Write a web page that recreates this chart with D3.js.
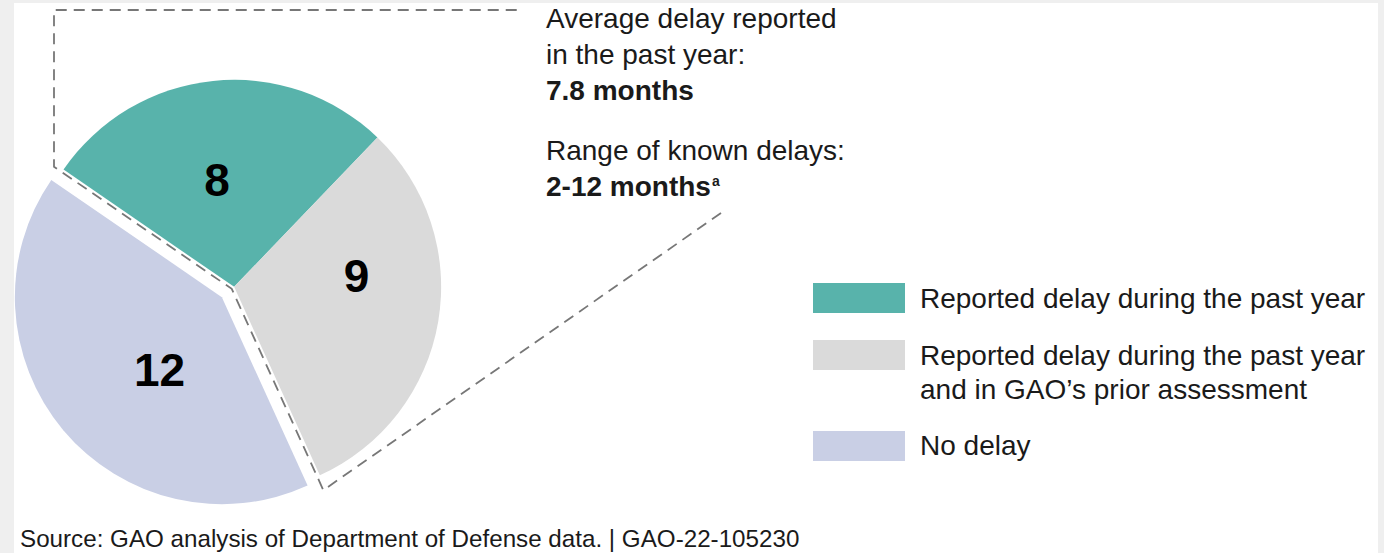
<!DOCTYPE html>
<html>
<head>
<meta charset="utf-8">
<script src="https://cdn.jsdelivr.net/npm/d3@7/dist/d3.min.js"></script>
<style>
  html, body { margin: 0; padding: 0; background: #efefef; }
  svg { display: block; }
  text { font-family: "Liberation Sans", Arial, Helvetica, sans-serif; fill: #1a1a1a; }
</style>
</head>
<body>
<svg id="chart" width="1384" height="553"></svg>
<script>
// ---------------- data ----------------
const categories = [
  "Reported delay during the past year",
  "Reported delay during the past year and in GAO’s prior assessment",
  "No delay"
];
const counts = [8, 9, 12];
const groupOf = ["delayed", "delayed", "none"];
const legendLines = [
  ["Reported delay during the past year"],
  ["Reported delay during the past year", "and in GAO’s prior assessment"],
  ["No delay"]
];
const calloutLines = [
  { text: "Average delay reported", bold: false },
  { text: "in the past year:", bold: false },
  { text: "7.8 months", bold: true },
  { text: "Range of known delays:", bold: false },
  { text: "2-12 months", bold: true, sup: "a" }
];
const sourceText = "Source: GAO analysis of Department of Defense data. | GAO-22-105230";

// ---------------- layout / style ----------------
const colors = ["#58b3ab", "#dadada", "#c9cfe5"];
const W = 1384, H = 553;
const center = { x: 228, y: 292 };
const radius = 207;
const explode = 8;
const startDeg = -55.5;
const labelRadius = 110;
const labelNudge = [[-6, 2], [14, -30], [22, 2]];
const calloutX = 546, calloutBaselines = [28, 64, 100, 160, 196];
const legend = { swatchX: 813, swatchW: 92, swatchH: 30, textX: 920,
                 swatchTop: [283, 340, 431], firstBaseline: [308, 365, 455], lineGap: 34 };

const svg = d3.select("#chart");
svg.append("rect").attr("x", 0).attr("y", 0).attr("width", W).attr("height", H).attr("fill", "#efefef");
svg.append("rect").attr("x", 14).attr("y", 3).attr("width", 1364).attr("height", H - 3).attr("fill", "#ffffff");

const toRad = d => d * Math.PI / 180;
const pie = d3.pie().sort(null).value(d => d)
  .startAngle(toRad(startDeg)).endAngle(toRad(startDeg) + 2 * Math.PI);
const arcs = pie(counts);
const arc = d3.arc().innerRadius(0).outerRadius(radius);
const labelArc = d3.arc().innerRadius(labelRadius).outerRadius(labelRadius);

// group extents for exploding
const groupExtent = {};
arcs.forEach((a, i) => {
  const g = groupOf[i];
  if (!groupExtent[g]) groupExtent[g] = { s: a.startAngle, e: a.endAngle };
  else groupExtent[g].e = a.endAngle;
});
const groupCenter = {};
Object.keys(groupExtent).forEach(g => {
  const m = (groupExtent[g].s + groupExtent[g].e) / 2;
  groupCenter[g] = { x: center.x + explode * Math.sin(m), y: center.y - explode * Math.cos(m) };
});

const pieG = svg.append("g");
arcs.forEach((a, i) => {
  const c = groupCenter[groupOf[i]];
  pieG.append("path")
    .attr("transform", `translate(${c.x},${c.y})`)
    .attr("d", arc(a))
    .attr("fill", colors[i]);
});

// dashed callout outline around delayed group
const dc = groupCenter["delayed"];
const a0 = groupExtent["delayed"].s, a2 = groupExtent["delayed"].e;
const off = 3;
const pt = (theta, rho, sign) => {
  const nx = sign * Math.cos(theta), ny = sign * Math.sin(theta);
  return [dc.x + rho * Math.sin(theta) + off * nx, dc.y - rho * Math.cos(theta) + off * ny];
};
const outsideMid = (a2 + a0 + 2 * Math.PI) / 2;
const outsideSpan = 2 * Math.PI - (a2 - a0);
const apexDist = off / Math.sin(outsideSpan / 2);
const apex = [dc.x + apexDist * Math.sin(outsideMid), dc.y - apexDist * Math.cos(outsideMid)];
const boxLeftX = 54, boxTopY = 10, boxTopEndX = 523;
const rhoLeft = (boxLeftX - dc.x - (-1) * Math.cos(a0) * off) / Math.sin(a0);
const leftJoin = pt(a0, rhoLeft, -1);
const rightCorner = pt(a2, radius + 15, 1);
const rightEnd = [721, 213];
const outline = [rightEnd, rightCorner, apex, leftJoin, [boxLeftX, leftJoin[1] - 4], [boxLeftX, boxTopY], [boxTopEndX, boxTopY]];
svg.append("path")
  .attr("d", d3.line()(outline))
  .attr("fill", "none")
  .attr("stroke", "#777777")
  .attr("stroke-width", 1.8)
  .attr("stroke-dasharray", "11,7");

// slice labels
arcs.forEach((a, i) => {
  const c = groupCenter[groupOf[i]];
  const [lx, ly] = labelArc.centroid(a);
  svg.append("text")
    .attr("x", c.x + lx + labelNudge[i][0])
    .attr("y", c.y + ly + labelNudge[i][1])
    .attr("dy", "0.36em")
    .attr("text-anchor", "middle")
    .style("font-size", "46px")
    .style("font-weight", "bold")
    .style("fill", "#000")
    .text(counts[i]);
});

// callout text
calloutLines.forEach((l, i) => {
  const t = svg.append("text")
    .attr("x", calloutX).attr("y", calloutBaselines[i])
    .style("font-size", "28px")
    .style("font-weight", l.bold ? "bold" : "normal")
    .text(l.text);
  if (l.sup) {
    t.append("tspan").attr("dy", -10).attr("dx", 1).style("font-size", "14px").text(l.sup);
  }
});

// legend
categories.forEach((c, i) => {
  svg.append("rect")
    .attr("x", legend.swatchX).attr("y", legend.swatchTop[i])
    .attr("width", legend.swatchW).attr("height", legend.swatchH)
    .attr("fill", colors[i]);
  legendLines[i].forEach((line, j) => {
    svg.append("text")
      .attr("x", legend.textX)
      .attr("y", legend.firstBaseline[i] + j * legend.lineGap)
      .style("font-size", "28px")
      .text(line);
  });
});

// source
svg.append("text").attr("x", 20).attr("y", 547).style("font-size", "24.2px").text(sourceText);
</script>
</body>
</html>
